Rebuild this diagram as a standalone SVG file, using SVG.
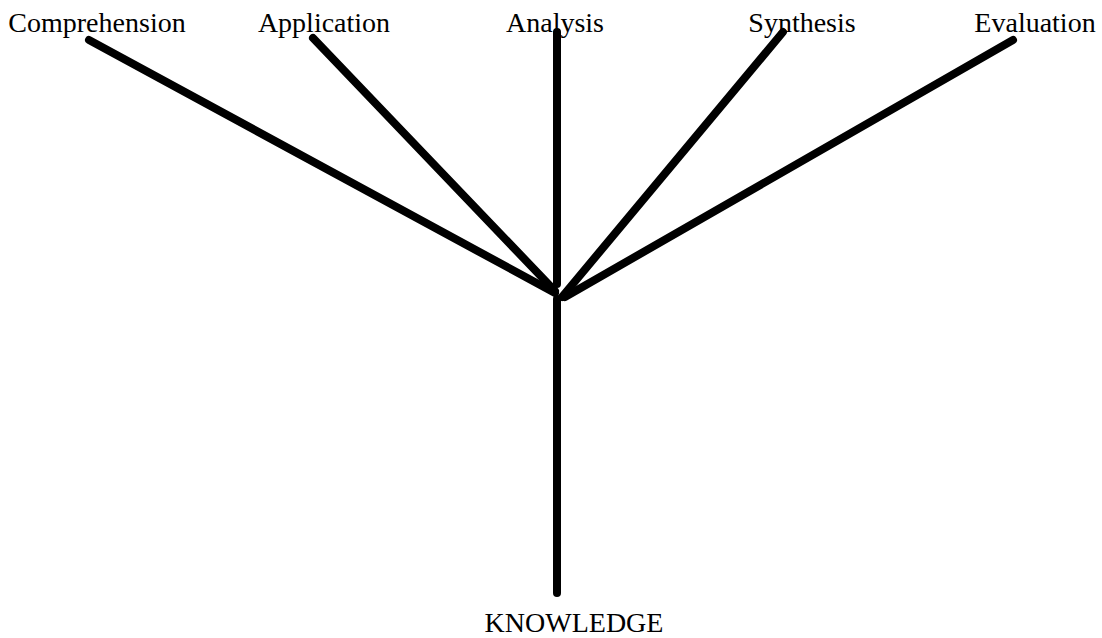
<svg xmlns="http://www.w3.org/2000/svg" width="1102" height="638" viewBox="0 0 1102 638">
<style>
.l{stroke:#000;stroke-width:8;stroke-linecap:round;fill:none}
text{font-family:"Liberation Serif","Times New Roman",serif;font-size:28px;fill:#000;text-anchor:middle}
</style>
<rect width="1102" height="638" fill="#fff"/>
<g id="connectors">
<line class="l" x1="89" y1="40" x2="555" y2="293"/>
<line class="l" x1="313" y1="38" x2="555" y2="291"/>
<line class="l" x1="557" y1="32" x2="557" y2="284"/>
<line class="l" x1="783" y1="32" x2="562" y2="297"/>
<line class="l" x1="1013" y1="40" x2="565" y2="297"/>
<line class="l" x1="557" y1="299" x2="557" y2="593"/>
</g>
<g id="comprehension"><text x="97" y="32">Comprehension</text></g>
<g id="application"><text x="324" y="32">Application</text></g>
<g id="analysis"><text x="555" y="32">Analysis</text></g>
<g id="synthesis"><text x="802" y="32">Synthesis</text></g>
<g id="evaluation"><text x="1035" y="32">Evaluation</text></g>
<g id="knowledge"><text x="574" y="632">KNOWLEDGE</text></g>
</svg>
